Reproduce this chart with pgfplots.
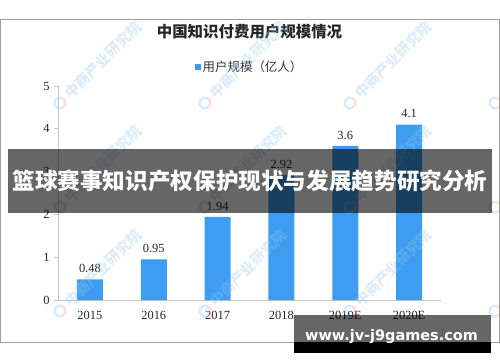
\documentclass[border=0pt]{standalone}
\usepackage{pgfplots}
\pgfplotsset{compat=1.18}
\usepackage{fontspec}
\setmainfont{Liberation Serif}
\newfontfamily\cjk{Noto Sans CJK SC}
\newfontfamily\dejab{DejaVu Sans}
\definecolor{barblue}{RGB}{62,157,240}
\definecolor{wm}{RGB}{150,198,240}
\definecolor{wmo}{RGB}{245,170,140}
\begin{document}
\begin{tikzpicture}[x=1bp,y=1bp]
\begin{axis}[
  scale only axis, width=383bp, height=214bp,
  xmin=-0.5, xmax=5.5, ymin=0, ymax=5,
  axis x line*=bottom, axis y line*=left,
  axis line style={draw=gray!45, line width=0.8bp},
  ybar, bar width=26bp,
  xtick={0,1,2,3,4,5},
  xticklabels={2015,2016,2017,2018,2019E,2020E},
  x tick style={draw=none},
  extra x ticks={0.5,1.5,2.5,3.5,4.5,5.5},
  extra x tick labels={},
  extra x tick style={tick align=outside, major tick length=4bp,
     tick style={draw=gray!45, line width=0.8bp}},
  ytick={0,1,2,3,4,5},
  y tick style={draw=gray!45, line width=0.8bp},
  tick align=outside, major tick length=4bp,
  /pgf/number format/assume math mode=true,
  ticklabel style={font=\fontsize{12.5}{13}\selectfont, text=black!85},
  x tick label style={yshift=-4bp},
  y tick label style={xshift=-1bp},
  nodes near coords,
  every node near coord/.append style={font=\fontsize{12.5}{13}\selectfont, text=black!85, yshift=3bp},
  title={中国知识付费用户规模情况},
  title style={at={(0.5,1.225)}, anchor=center, font=\cjk\bfseries\fontsize{15.5}{16}\selectfont, text=black!85},
  legend style={at={(0.5,1.09)}, anchor=center, draw=none, fill=none,
     font=\cjk\fontsize{12.5}{13}\selectfont, text=black!80,
     /tikz/every even column/.append style={column sep=0pt}},
  legend image code/.code={\fill[barblue] (0bp,-3bp) rectangle (6bp,3bp);},
]
\addplot[fill=barblue, draw=none] coordinates {(0,0.48) (1,0.95) (2,1.94) (3,2.92) (4,3.6) (5,4.1)};
\addlegendentry{用户规模（亿人）}
\coordinate (O) at (rel axis cs:0,0);
\end{axis}
\begin{scope}[shift={(O)}]
\begin{scope}[shift={(-58,-62)}]
\path[use as bounding box] (0,0) rectangle (500,362);
% faint watermarks
\begin{scope}
\clip (0,0) rectangle (500,362);
\foreach \wx in {-85,60,205,350,495}{
  \foreach \wy in {103,207,311}{
    \draw[wm, line width=2.5bp, draw opacity=0.35] ([shift={(\wx,362-\wy)}]60:5.5) arc (60:300:5.5);
    \draw[wmo, line width=2.5bp, draw opacity=0.35] ([shift={(\wx,362-\wy)}]-60:5.5) arc (-60:60:5.5);
    \node[rotate=45, anchor=west, text=wm, text opacity=0.33, inner sep=0pt,
          font=\cjk\bfseries\fontsize{14.5}{15}\selectfont] at (\wx+7,362-\wy+7) {中商产业研究院};
  }
}
\end{scope}
\draw[gray!75, line width=0.8bp] (0.5,20) rectangle (499.5,343);
% banner
\fill[black, opacity=0.6] (8,149) rectangle (492,213);
\node[text=white, font=\cjk\bfseries\fontsize{22.7}{23}\selectfont] at (250,181) {篮球赛事知识产权保护现状与发展趋势研究分析};
% site watermark
\fill[black, opacity=0.6] (294,20) rectangle (491,47);
\fill[black] (294,9) rectangle (491,20);
\node[anchor=base, text=white, inner sep=0pt, font=\dejab\bfseries\fontsize{14.5}{15}\selectfont] at (391.5,21.5) {www.jv-j9games.com};
\end{scope}
\end{scope}
\end{tikzpicture}
\end{document}
